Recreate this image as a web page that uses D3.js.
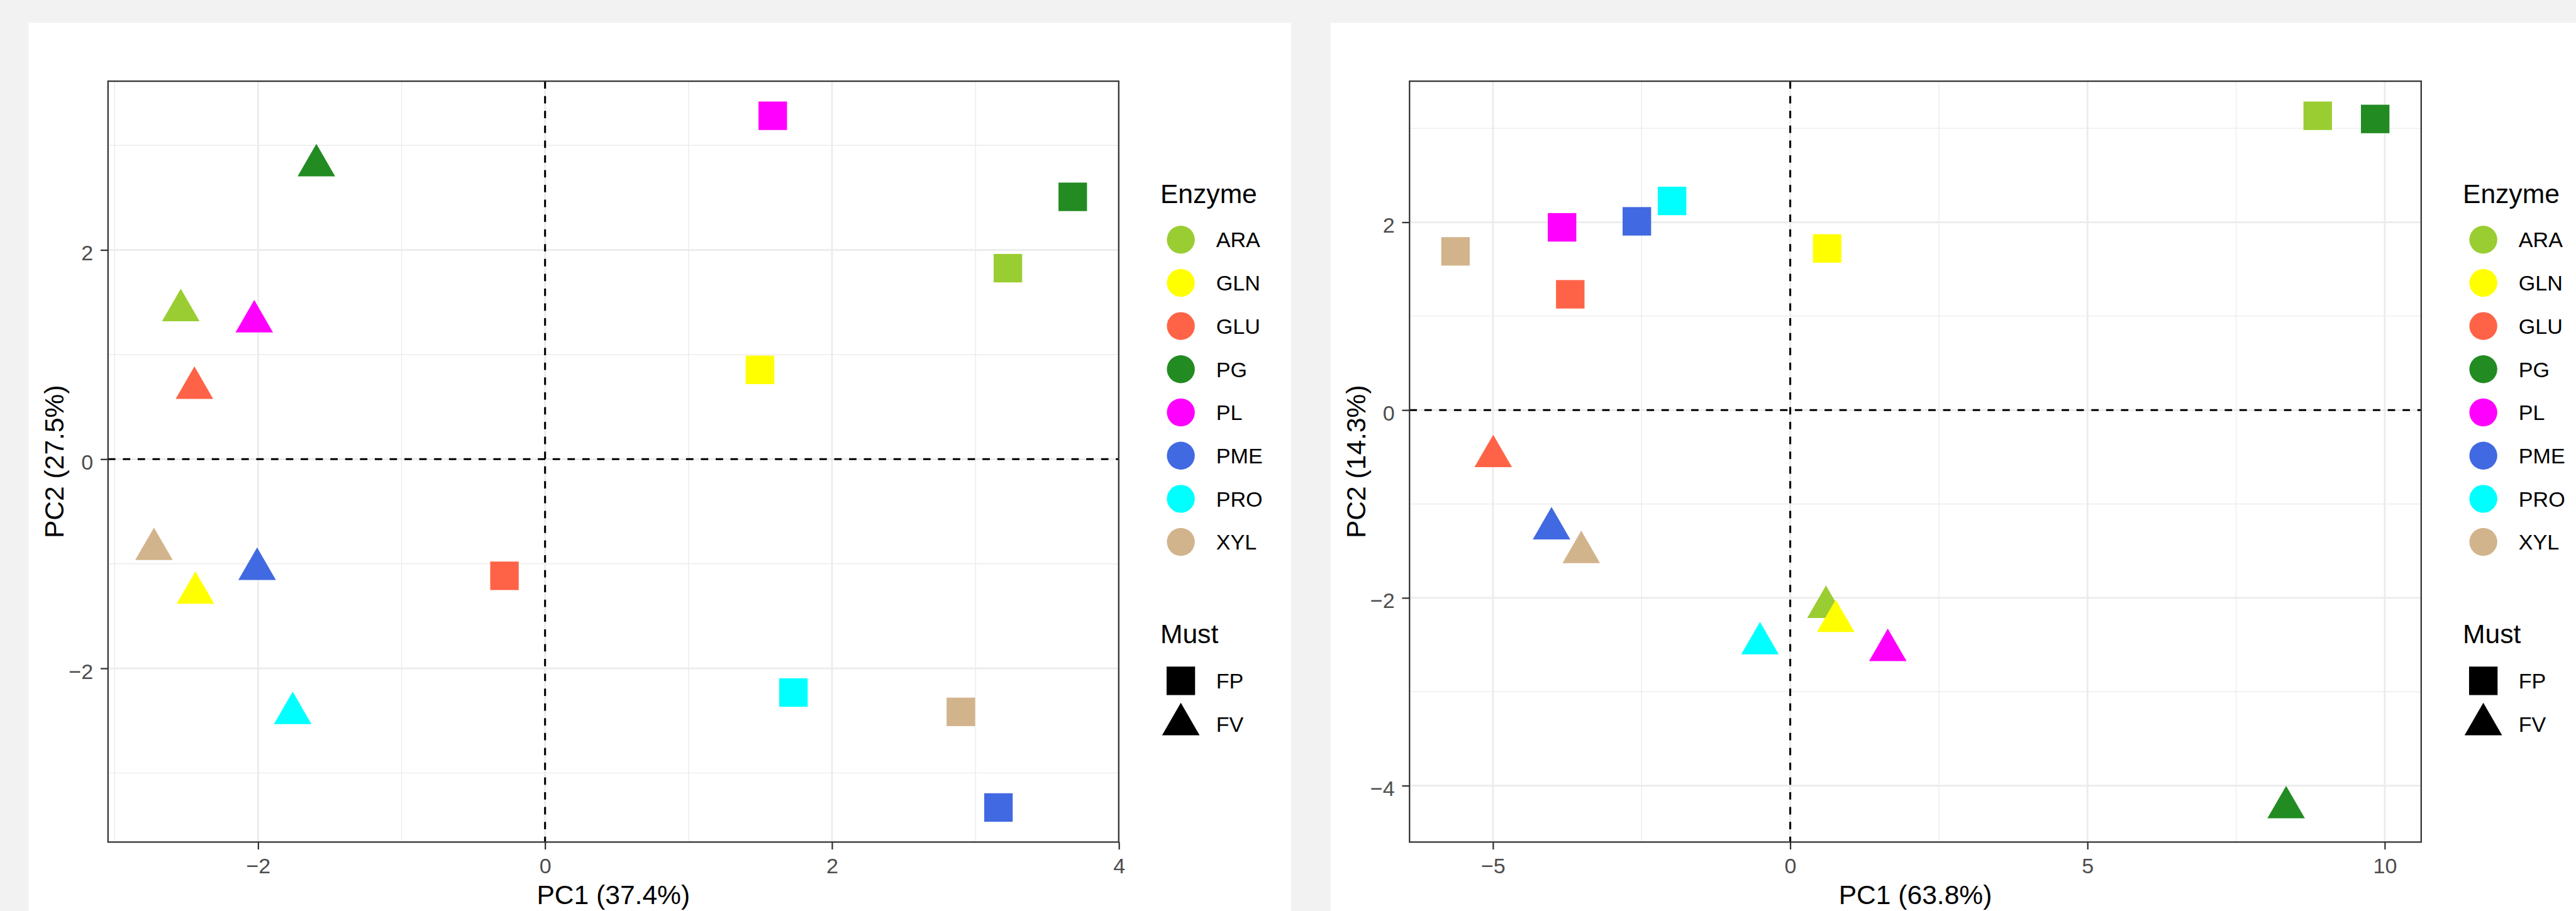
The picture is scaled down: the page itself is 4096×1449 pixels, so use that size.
<!DOCTYPE html>
<html>
<head>
<meta charset="utf-8">
<script src="https://cdn.jsdelivr.net/npm/d3@7"></script>
<style>
  html, body { margin: 0; padding: 0; overflow: hidden; background: #f2f2f2; }
  svg { display: block; }
  text { font-family: "Liberation Sans", Arial, sans-serif; }
</style>
</head>
<body>
<script>
// ---------- DATA ----------
const enzymes = ["ARA", "GLN", "GLU", "PG", "PL", "PME", "PRO", "XYL"];
const enzymeColors = ["#9ACD32", "#FFFF00", "#FF6347", "#228B22", "#FF00FF", "#4169E1", "#00FFFF", "#D2B48C"];
const musts = ["FP", "FV"];

// Left plot (PC1 37.4%, PC2 27.5%)
const leftXLabel = "PC1 (37.4%)";
const leftYLabel = "PC2 (27.5%)";
const leftFP_x = [3.226, 1.498, -0.283, 3.678, 1.587, 3.160, 1.731, 2.898];
const leftFP_y = [1.826, 0.854, -1.115, 2.508, 3.283, -3.330, -2.231, -2.416];
const leftFV_x = [-2.539, -2.437, -2.444, -1.594, -2.027, -2.007, -1.759, -2.726];
const leftFV_y = [1.422, -1.279, 0.680, 2.808, 1.315, -1.051, -2.429, -0.861];
const leftXTicks = [-2, 0, 2, 4];
const leftYTicks = [-2, 0, 2];
const leftXMinor = [-3, -1, 1, 3];
const leftYMinor = [-3, -1, 1, 3];

// Right plot (PC1 63.8%, PC2 14.3%)
const rightXLabel = "PC1 (63.8%)";
const rightYLabel = "PC2 (14.3%)";
const rightFP_x = [8.872, 0.621, -3.700, 9.839, -3.838, -2.580, -1.988, -5.630];
const rightFP_y = [3.134, 1.721, 1.233, 3.100, 1.946, 2.010, 2.227, 1.690];
const rightFV_x = [0.601, 0.765, -4.996, 8.341, 1.641, -4.015, -0.509, -3.515];
const rightFV_y = [-2.099, -2.249, -0.493, -4.232, -2.558, -1.262, -2.486, -1.515];
const rightXTicks = [-5, 0, 5, 10];
const rightYTicks = [-4, -2, 0, 2];
const rightXMinor = [-2.5, 2.5, 7.5];
const rightYMinor = [-3, -1, 1, 3];

// ---------- LAYOUT (reference units, scaled by viewBox) ----------
const W = 4519, H = 1599;
const svg = d3.select("body").append("svg")
  .attr("width", 4096).attr("height", 1449)
  .attr("viewBox", `0 0 ${W} ${H}`)
  .attr("preserveAspectRatio", "none");

svg.append("rect").attr("x", 0).attr("y", 0).attr("width", W).attr("height", H).attr("fill", "#f2f2f2");

const color = d3.scaleOrdinal().domain(enzymes).range(enzymeColors);

const TRI_R = 38;     // triangle circumradius
const SQ = 50;        // square side
const CIRC_R = 24.5;  // legend circle radius
const TICK_FS = 37.6, TITLE_FS = 47, LEG_FS = 37.6;

function triPath(cx, cy, r) {
  const h = r * Math.sqrt(3) / 2;
  return `M${cx},${cy - r}L${cx + h},${cy + r / 2}L${cx - h},${cy + r / 2}Z`;
}

function expandExtent(vals) {
  const [a, b] = d3.extent(vals);
  const pad = (b - a) * 0.05;
  return [a - pad, b + pad];
}

function drawChart(cfg) {
  const { bg, px0, px1, py0, py1 } = cfg;
  svg.append("rect").attr("x", bg[0]).attr("y", bg[1]).attr("width", bg[2]).attr("height", bg[3]).attr("fill", "#ffffff");

  const allX = cfg.fpx.concat(cfg.fvx);
  const allY = cfg.fpy.concat(cfg.fvy);
  const x = d3.scaleLinear().domain(expandExtent(allX)).range([px0, px1]);
  const y = d3.scaleLinear().domain(expandExtent(allY)).range([py1, py0]);

  const g = svg.append("g");
  // minor grid
  g.selectAll(".vminor").data(cfg.xMinor).join("line")
    .attr("x1", d => x(d)).attr("x2", d => x(d)).attr("y1", py0).attr("y2", py1)
    .attr("stroke", "#ebebeb").attr("stroke-width", 1.5);
  g.selectAll(".hminor").data(cfg.yMinor).join("line")
    .attr("y1", d => y(d)).attr("y2", d => y(d)).attr("x1", px0).attr("x2", px1)
    .attr("stroke", "#ebebeb").attr("stroke-width", 1.5);
  // major grid
  g.selectAll(".vmajor").data(cfg.xTicks).join("line")
    .attr("x1", d => x(d)).attr("x2", d => x(d)).attr("y1", py0).attr("y2", py1)
    .attr("stroke", "#ebebeb").attr("stroke-width", 3);
  g.selectAll(".hmajor").data(cfg.yTicks).join("line")
    .attr("y1", d => y(d)).attr("y2", d => y(d)).attr("x1", px0).attr("x2", px1)
    .attr("stroke", "#ebebeb").attr("stroke-width", 3);

  // dashed reference lines
  g.append("line").attr("x1", x(0)).attr("x2", x(0)).attr("y1", py0).attr("y2", py1)
    .attr("stroke", "#000").attr("stroke-width", 3.4).attr("stroke-dasharray", "13,13");
  g.append("line").attr("y1", y(0)).attr("y2", y(0)).attr("x1", px0).attr("x2", px1)
    .attr("stroke", "#000").attr("stroke-width", 3.4).attr("stroke-dasharray", "13,13");

  // points
  const fp = enzymes.map((e, i) => ({ e, x: cfg.fpx[i], y: cfg.fpy[i] }));
  const fv = enzymes.map((e, i) => ({ e, x: cfg.fvx[i], y: cfg.fvy[i] }));
  g.selectAll(".sq").data(fp).join("rect")
    .attr("x", d => x(d.x) - SQ / 2).attr("y", d => y(d.y) - SQ / 2)
    .attr("width", SQ).attr("height", SQ).attr("fill", d => color(d.e));
  g.selectAll(".tri").data(fv).join("path")
    .attr("d", d => triPath(x(d.x), y(d.y), TRI_R)).attr("fill", d => color(d.e));

  // border
  g.append("rect").attr("x", px0).attr("y", py0).attr("width", px1 - px0).attr("height", py1 - py0)
    .attr("fill", "none").attr("stroke", "#333333").attr("stroke-width", 2.5);

  // axes
  const fmt = d3.format("d");
  const xa = g.append("g").attr("transform", `translate(0,${py1})`)
    .call(d3.axisBottom(x).tickValues(cfg.xTicks).tickSize(13).tickPadding(15).tickFormat(fmt));
  const ya = g.append("g").attr("transform", `translate(${px0},0)`)
    .call(d3.axisLeft(y).tickValues(cfg.yTicks).tickSize(13).tickPadding(13).tickFormat(fmt));
  [xa, ya].forEach(a => {
    a.select(".domain").remove();
    a.selectAll(".tick line").attr("stroke", "#333333").attr("stroke-width", 2.5);
    a.selectAll(".tick text").attr("fill", "#4d4d4d").attr("font-size", TICK_FS)
      .attr("font-family", '"Liberation Sans", Arial, sans-serif');
  });
  ya.selectAll(".tick text").attr("dy", "0.47em");

  // axis titles
  svg.append("text").attr("x", (px0 + px1) / 2).attr("y", 1587)
    .attr("text-anchor", "middle").attr("font-size", TITLE_FS).attr("fill", "#000").text(cfg.xLabel);
  svg.append("text").attr("transform", `translate(${px0 - 77.8},${(py0 + py1) / 2}) rotate(-90)`)
    .attr("text-anchor", "middle").attr("font-size", TITLE_FS).attr("fill", "#000").text(cfg.yLabel);

  // legend
  const lx = px1 + 73;
  const lg = svg.append("g");
  lg.append("text").attr("x", lx).attr("y", 356).attr("font-size", TITLE_FS).attr("fill", "#000").text("Enzyme");
  const items = lg.selectAll(".li").data(enzymes).join("g")
    .attr("transform", (d, i) => `translate(0,${420.7 + i * 75.8})`);
  items.append("circle").attr("cx", lx + 36).attr("cy", 0).attr("r", CIRC_R).attr("fill", d => color(d));
  items.append("text").attr("x", lx + 98).attr("y", 13.5).attr("font-size", LEG_FS).attr("fill", "#000").text(d => d);

  lg.append("text").attr("x", lx).attr("y", 1129).attr("font-size", TITLE_FS).attr("fill", "#000").text("Must");
  const mItems = lg.selectAll(".mi").data(musts).join("g")
    .attr("transform", (d, i) => `translate(0,${1195 + i * 76.5})`);
  mItems.each(function (d, i) {
    const s = d3.select(this);
    if (i === 0) {
      s.append("rect").attr("x", lx + 36 - SQ / 2).attr("y", -SQ / 2).attr("width", SQ).attr("height", SQ).attr("fill", "#000");
    } else {
      s.append("path").attr("d", triPath(lx + 36, 0, TRI_R)).attr("fill", "#000");
    }
  });
  mItems.append("text").attr("x", lx + 98).attr("y", 13.5).attr("font-size", LEG_FS).attr("fill", "#000").text(d => d);
}

drawChart({
  bg: [50, 40, 2215, 1559],
  px0: 189.5, px1: 1962.5, py0: 142.5, py1: 1478,
  fpx: leftFP_x, fpy: leftFP_y, fvx: leftFV_x, fvy: leftFV_y,
  xTicks: leftXTicks, yTicks: leftYTicks, xMinor: leftXMinor, yMinor: leftYMinor,
  xLabel: leftXLabel, yLabel: leftYLabel
});

drawChart({
  bg: [2334, 40, 2185, 1559],
  px0: 2472.7, px1: 4247.4, py0: 142.5, py1: 1478,
  fpx: rightFP_x, fpy: rightFP_y, fvx: rightFV_x, fvy: rightFV_y,
  xTicks: rightXTicks, yTicks: rightYTicks, xMinor: rightXMinor, yMinor: rightYMinor,
  xLabel: rightXLabel, yLabel: rightYLabel
});
</script>
</body>
</html>
